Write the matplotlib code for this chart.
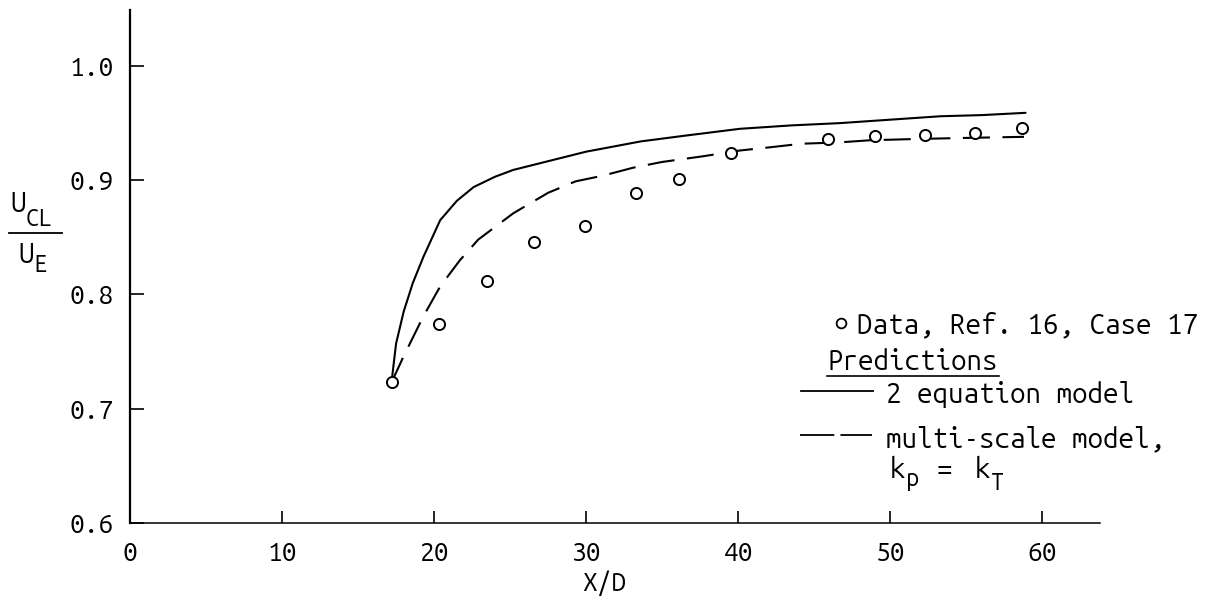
import matplotlib
matplotlib.use('Agg')
import matplotlib.pyplot as plt
from matplotlib.lines import Line2D

# centreline velocity ratio vs X/D
data_x = [17.2, 20.3, 23.5, 26.6, 29.9, 33.3, 36.1, 39.5, 45.9, 49.0, 52.3, 55.6, 58.7]
data_y = [0.723, 0.774, 0.812, 0.846, 0.860, 0.889, 0.901, 0.924, 0.936, 0.939, 0.940, 0.941, 0.946]

# 2 equation model prediction
two_eq_x = [17.2, 17.5, 18.0, 18.6, 19.3, 20.4, 21.5, 22.6, 24.0, 25.2, 27.0, 30.0,
            33.6, 36.5, 40.1, 43.5, 46.7, 50.0, 53.3, 56.0, 58.9]
two_eq_y = [0.723, 0.757, 0.785, 0.810, 0.833, 0.865, 0.882, 0.894, 0.903, 0.909, 0.915, 0.925,
            0.934, 0.939, 0.945, 0.948, 0.950, 0.953, 0.956, 0.957, 0.959]

# multi-scale model prediction, kp = kT
multi_x = [17.2, 18.0, 19.3, 20.4, 21.7, 22.9, 25.2, 27.5, 29.3, 31.1, 33.1, 35.0, 37.7,
           40.1, 42.2, 44.2, 46.5, 48.7, 51.4, 54.8, 58.8]
multi_y = [0.723, 0.746, 0.781, 0.807, 0.830, 0.848, 0.871, 0.889, 0.899, 0.904, 0.911, 0.916, 0.921,
           0.926, 0.929, 0.932, 0.933, 0.935, 0.936, 0.937, 0.938]

xticks = [0, 10, 20, 30, 40, 50, 60]
yticks = [0.6, 0.7, 0.8, 0.9, 1.0]

W, H = 1221, 610
FONT = ['Ubuntu Mono', 'DejaVu Sans Mono']
FS = 20      # main text size
FS_SUB = 17  # subscripts


def fx(px):
    return px / W


def fy(py):
    return (H - py) / H


fig = plt.figure(figsize=(W / 100, H / 100), dpi=100)
ax = fig.add_axes([fx(130), fy(523), 970 / W, 513 / H])

ax.plot(two_eq_x, two_eq_y, color='black', lw=1.5, solid_capstyle='round')
ax.plot(multi_x, multi_y, color='black', lw=1.5, linestyle=(0, (13, 6)))
ax.plot(data_x, data_y, linestyle='none', marker='o', ms=8, mfc='white',
        mec='black', mew=1.4, zorder=5, clip_on=False)

ax.set_xlim(0, 63.8)
ax.set_ylim(0.6, 1.049)
ax.set_xticks(xticks)
ax.set_yticks(yticks)
ax.set_xticklabels([str(t) for t in xticks], family=FONT, fontsize=19)
ax.set_yticklabels(['%.1f' % t for t in yticks], family=FONT, fontsize=19)
ax.tick_params(axis='y', direction='in', length=10, width=1.2, pad=12)
ax.tick_params(axis='x', direction='in', length=9, width=1.2, pad=13)

for s in ['top', 'right']:
    ax.spines[s].set_visible(False)
ax.spines['left'].set_linewidth(1.6)
ax.spines['bottom'].set_linewidth(1.1)

fig.text(fx(604), fy(583), 'X/D', family=FONT, fontsize=19, ha='center', va='center')

# y label as a stacked fraction U_CL / U_E
fig.text(fx(10), fy(212), 'U', family=FONT, fontsize=FS, ha='left', va='baseline')
fig.text(fx(26), fy(226), 'CL', family=FONT, fontsize=FS_SUB, ha='left', va='baseline')
fig.add_artist(Line2D([fx(9), fx(62)], [fy(233), fy(233)], color='black', lw=1.3))
fig.text(fx(18), fy(263), 'U', family=FONT, fontsize=FS, ha='left', va='baseline')
fig.text(fx(33), fy(272), 'E', family=FONT, fontsize=FS_SUB, ha='left', va='baseline')

# legend block
fig.add_artist(Line2D([fx(841)], [fy(323)], marker='o', ms=7, mfc='white',
                      mec='black', mew=1.3, linestyle='none'))
fig.text(fx(857), fy(333), 'Data, Ref. 16, Case 17', family=FONT, fontsize=FS, va='baseline')
fig.text(fx(827), fy(370), 'Predictions', family=FONT, fontsize=FS, va='baseline')
fig.add_artist(Line2D([fx(827), fx(999)], [fy(376), fy(376)], color='black', lw=1.2))
fig.add_artist(Line2D([fx(801), fx(873)], [fy(391), fy(391)], color='black', lw=1.3))
fig.text(fx(886), fy(403), '2 equation model', family=FONT, fontsize=FS, va='baseline')
fig.add_artist(Line2D([fx(800), fx(872)], [fy(435), fy(435)], color='black', lw=1.3,
                      linestyle=(0, (19, 3.4))))
fig.text(fx(886), fy(447), 'multi-scale model,', family=FONT, fontsize=FS, va='baseline')
fig.text(fx(890), fy(478), 'k', family=FONT, fontsize=FS, va='baseline')
fig.text(fx(906), fy(486), 'p', family=FONT, fontsize=FS_SUB, va='baseline')
fig.text(fx(937), fy(478), '=', family=FONT, fontsize=FS, va='baseline')
fig.text(fx(975), fy(478), 'k', family=FONT, fontsize=FS, va='baseline')
fig.text(fx(991), fy(490), 'T', family=FONT, fontsize=FS_SUB, va='baseline')

fig.savefig('out.png', dpi=100)
